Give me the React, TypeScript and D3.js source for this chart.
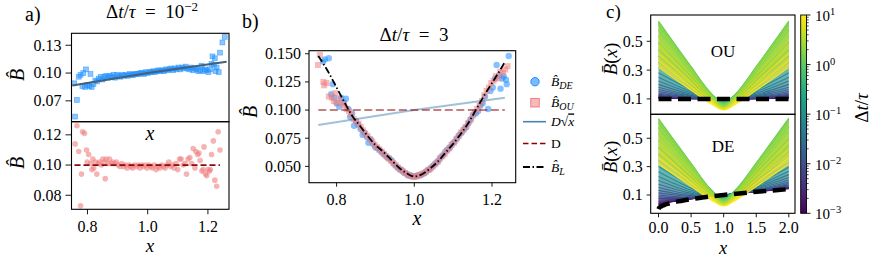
import React from 'react';
import * as d3 from 'd3';

// ---------------- DATA ----------------
// Panel a (top): DE estimate, squares, dt/tau = 1e-2
const aTopDE: [number, number][] = [
  [0.756,0.089],[0.759,0.053],[0.765,0.071],[0.771,0.096],[0.777,0.098],[0.783,0.086],[0.786,0.100],[0.792,0.085],
  [0.795,0.104],[0.800,0.087],[0.806,0.086],[0.810,0.099],[0.814,0.085],[0.820,0.088],[0.826,0.092],[0.832,0.091],
  [0.838,0.094],[0.844,0.096],[0.850,0.093],[0.856,0.096],[0.862,0.097],[0.868,0.095],[0.874,0.097],[0.880,0.096],
  [0.886,0.098],[0.892,0.095],[0.898,0.098],[0.904,0.097],[0.910,0.096],[0.916,0.098],[0.922,0.097],[0.928,0.098],
  [0.934,0.097],[0.940,0.099],[0.946,0.098],[0.952,0.098],[0.958,0.099],[0.964,0.099],[0.970,0.099],[0.976,0.100],
  [0.982,0.100],[0.988,0.099],[0.994,0.101],[1.000,0.100],[1.006,0.101],[1.012,0.101],[1.018,0.102],[1.024,0.101],
  [1.030,0.102],[1.036,0.103],[1.042,0.102],[1.048,0.103],[1.054,0.102],[1.060,0.104],[1.066,0.103],[1.072,0.104],
  [1.078,0.105],[1.084,0.103],[1.090,0.105],[1.096,0.104],[1.102,0.106],[1.108,0.104],[1.114,0.106],[1.120,0.105],
  [1.126,0.107],[1.132,0.105],[1.138,0.104],[1.144,0.106],[1.150,0.103],[1.156,0.105],[1.162,0.104],[1.168,0.102],
  [1.174,0.103],[1.179,0.108],[1.185,0.102],[1.190,0.104],[1.196,0.103],[1.202,0.101],[1.207,0.104],[1.212,0.110],
  [1.215,0.118],[1.220,0.109],[1.223,0.116],[1.225,0.102],[1.229,0.106],[1.236,0.101],[1.240,0.122],[1.248,0.133],
  [1.256,0.139]
];
// Panel a (bottom): OU estimate, circles
const aBotOU: [number, number][] = [
  [0.759,0.114],[0.765,0.126],[0.771,0.109],[0.777,0.073],[0.780,0.094],[0.784,0.122],[0.790,0.121],[0.797,0.110],
  [0.799,0.102],[0.804,0.107],[0.810,0.101],[0.815,0.097],[0.818,0.104],[0.821,0.098],[0.826,0.102],[0.831,0.094],
  [0.836,0.101],[0.840,0.102],[0.846,0.100],[0.851,0.104],[0.856,0.102],[0.859,0.091],[0.862,0.104],[0.868,0.101],
  [0.873,0.104],[0.878,0.101],[0.884,0.102],[0.890,0.101],[0.896,0.102],[0.902,0.100],[0.908,0.099],[0.914,0.101],
  [0.920,0.099],[0.926,0.100],[0.932,0.098],[0.938,0.100],[0.944,0.099],[0.950,0.098],[0.956,0.100],[0.962,0.099],
  [0.968,0.100],[0.974,0.098],[0.980,0.100],[0.986,0.099],[0.992,0.100],[0.998,0.098],[1.004,0.100],[1.010,0.099],
  [1.016,0.098],[1.022,0.100],[1.028,0.097],[1.034,0.099],[1.040,0.098],[1.046,0.100],[1.052,0.099],[1.058,0.098],
  [1.064,0.100],[1.070,0.102],[1.076,0.099],[1.082,0.100],[1.088,0.098],[1.094,0.101],[1.100,0.097],[1.106,0.104],
  [1.111,0.104],[1.118,0.100],[1.124,0.101],[1.129,0.094],[1.134,0.104],[1.140,0.105],[1.146,0.101],[1.151,0.111],
  [1.157,0.098],[1.160,0.109],[1.166,0.107],[1.170,0.108],[1.174,0.103],[1.180,0.096],[1.184,0.097],[1.187,0.112],
  [1.192,0.094],[1.196,0.093],[1.200,0.097],[1.205,0.096],[1.208,0.097],[1.212,0.107],[1.218,0.116],[1.223,0.090],
  [1.229,0.086],[1.234,0.122],[1.240,0.110]
];
const aSqrtLine: [number, number][] = [[0.750,0.0866],[1.000,0.1000],[1.262,0.1123]];
const aConstLine: [number, number][] = [[0.757,0.1],[1.240,0.1]];

// Panel b: dt/tau = 3
const bDE: [number, number][] = [
  [0.765,0.143],[0.770,0.145],[0.780,0.146],[0.786,0.114],[0.790,0.123],[0.794,0.111],[0.800,0.106],[0.807,0.103],
  [0.812,0.111],[0.818,0.107],[0.824,0.110],[0.830,0.101],[0.835,0.094],[0.840,0.097],[0.845,0.086],[0.850,0.090],
  [0.856,0.087],[0.862,0.083],[0.867,0.078],[0.872,0.080],[0.878,0.076],[0.882,0.071],[0.888,0.074],[0.894,0.070],
  [0.900,0.067],[0.906,0.066],[0.912,0.064],[0.918,0.062],[0.924,0.060],[0.930,0.058],[0.936,0.057],[0.942,0.055],
  [0.948,0.052],[0.954,0.050],[0.960,0.048],[0.966,0.047],[0.972,0.045],[0.978,0.044],[0.984,0.042],[0.990,0.042],
  [0.996,0.041],[1.002,0.041],[1.008,0.042],[1.014,0.042],[1.020,0.043],[1.026,0.044],[1.032,0.046],[1.038,0.047],
  [1.044,0.049],[1.050,0.051],[1.056,0.053],[1.062,0.055],[1.068,0.058],[1.074,0.060],[1.080,0.063],[1.086,0.065],
  [1.092,0.067],[1.098,0.070],[1.104,0.072],[1.110,0.075],[1.116,0.078],[1.122,0.080],[1.128,0.083],[1.134,0.085],
  [1.140,0.089],[1.146,0.092],[1.152,0.096],[1.158,0.097],[1.164,0.099],[1.170,0.104],[1.176,0.106],[1.182,0.112],
  [1.190,0.101],[1.196,0.117],[1.202,0.120],[1.208,0.128],[1.212,0.140],[1.218,0.131],[1.222,0.119],[1.226,0.128],
  [1.230,0.130],[1.236,0.127],[1.238,0.123],[1.243,0.148]
];
const bOU: [number, number][] = [
  [0.752,0.140],[0.757,0.149],[0.766,0.125],[0.768,0.122],[0.774,0.124],[0.780,0.112],[0.788,0.111],[0.793,0.108],
  [0.797,0.115],[0.802,0.106],[0.808,0.110],[0.814,0.106],[0.820,0.104],[0.826,0.101],[0.832,0.099],[0.838,0.096],
  [0.844,0.092],[0.850,0.090],[0.856,0.088],[0.862,0.085],[0.868,0.082],[0.874,0.079],[0.880,0.077],[0.886,0.074],
  [0.892,0.072],[0.898,0.069],[0.904,0.067],[0.910,0.065],[0.916,0.063],[0.922,0.061],[0.928,0.059],[0.934,0.057],
  [0.940,0.055],[0.946,0.053],[0.952,0.051],[0.958,0.049],[0.964,0.047],[0.970,0.046],[0.976,0.044],[0.982,0.043],
  [0.988,0.042],[0.994,0.041],[1.000,0.041],[1.006,0.041],[1.012,0.042],[1.018,0.043],[1.024,0.044],[1.030,0.045],
  [1.036,0.047],[1.042,0.048],[1.048,0.050],[1.054,0.052],[1.060,0.054],[1.066,0.057],[1.072,0.059],[1.078,0.061],
  [1.084,0.064],[1.090,0.066],[1.096,0.069],[1.102,0.071],[1.108,0.074],[1.114,0.077],[1.120,0.080],[1.126,0.082],
  [1.132,0.085],[1.138,0.088],[1.144,0.091],[1.150,0.095],[1.156,0.098],[1.162,0.101],[1.168,0.104],[1.174,0.108],
  [1.180,0.113],[1.186,0.117],[1.192,0.120],[1.198,0.124],[1.204,0.126],[1.210,0.130],[1.216,0.128],[1.221,0.134],
  [1.228,0.133],[1.234,0.136],[1.240,0.139]
];
const bLangevin: [number, number][] = [
  [0.753,0.148],[0.78,0.133],[0.80,0.120],[0.82,0.107],[0.84,0.095],[0.86,0.086],[0.88,0.077],[0.90,0.069],
  [0.92,0.063],[0.94,0.056],[0.96,0.049],[0.98,0.044],[1.00,0.041],[1.02,0.043],[1.04,0.048],[1.06,0.054],
  [1.08,0.062],[1.10,0.070],[1.12,0.079],[1.14,0.089],[1.16,0.101],[1.18,0.113],[1.20,0.124],[1.22,0.135],[1.232,0.142]
];
const bSqrtLine: [number, number][] = [[0.753,0.0868],[1.000,0.1000],[1.233,0.1110]];
const bConstLine: [number, number][] = [[0.753,0.1],[1.233,0.1]];

// Panel c: family of curves, one per dt/tau
const dtRatio = [0.001,0.001334,0.001778,0.002371,0.003162,0.004217,0.005623,0.007499,0.01,0.01334,0.01778,0.02371,
  0.03162,0.04217,0.05623,0.07499,0.1,0.1334,0.1778,0.2371,0.3162,0.4217,0.5623,0.7499,1,1.334,1.778,2.371,3.162,
  4.217,5.623,7.499,10];
const ouX = [0, 0.5, 0.8, 1, 1.2, 1.5, 2];
const ouCurves = [
  [0.1048,0.1012,0.1002,0.0999,0.1002,0.1012,0.1048],
  [0.1064,0.1016,0.1002,0.0999,0.1002,0.1016,0.1064],
  [0.1084,0.1021,0.1003,0.0999,0.1003,0.1021,0.1084],
  [0.1111,0.1028,0.1004,0.0999,0.1004,0.1028,0.1111],
  [0.1145,0.1037,0.1005,0.0998,0.1005,0.1037,0.1145],
  [0.1190,0.1049,0.1006,0.0998,0.1006,0.1049,0.1190],
  [0.1246,0.1065,0.1008,0.0997,0.1008,0.1065,0.1246],
  [0.1318,0.1086,0.1011,0.0996,0.1011,0.1086,0.1318],
  [0.1407,0.1113,0.1015,0.0995,0.1015,0.1113,0.1407],
  [0.1518,0.1147,0.1020,0.0993,0.1020,0.1147,0.1518],
  [0.1652,0.1191,0.1026,0.0991,0.1026,0.1191,0.1652],
  [0.1815,0.1247,0.1034,0.0988,0.1034,0.1247,0.1815],
  [0.2008,0.1317,0.1045,0.0984,0.1045,0.1317,0.2008],
  [0.2237,0.1404,0.1059,0.0979,0.1059,0.1404,0.2237],
  [0.2503,0.1508,0.1076,0.0973,0.1076,0.1508,0.2503],
  [0.2809,0.1634,0.1099,0.0964,0.1099,0.1634,0.2809],
  [0.3156,0.1781,0.1126,0.0952,0.1126,0.1781,0.3156],
  [0.3545,0.1949,0.1160,0.0937,0.1160,0.1949,0.3545],
  [0.3971,0.2138,0.1199,0.0917,0.1199,0.2138,0.3971],
  [0.4426,0.2344,0.1244,0.0892,0.1244,0.2344,0.4426],
  [0.4897,0.2560,0.1293,0.0861,0.1293,0.2560,0.4897],
  [0.5362,0.2774,0.1341,0.0822,0.1341,0.2774,0.5362],
  [0.5788,0.2971,0.1384,0.0775,0.1384,0.2971,0.5788],
  [0.6135,0.3130,0.1415,0.0720,0.1415,0.3130,0.6135],
  [0.6355,0.3228,0.1425,0.0658,0.1425,0.3228,0.6355],
  [0.6405,0.3243,0.1406,0.0591,0.1406,0.3243,0.6405],
  [0.6254,0.3160,0.1352,0.0523,0.1352,0.3160,0.6254],
  [0.5905,0.2979,0.1263,0.0457,0.1263,0.2979,0.5905],
  [0.5400,0.2722,0.1148,0.0397,0.1148,0.2722,0.5400],
  [0.4810,0.2424,0.1020,0.0344,0.1020,0.2424,0.4810],
  [0.4212,0.2122,0.0892,0.0298,0.0892,0.2122,0.4212],
  [0.3659,0.1843,0.0774,0.0258,0.0774,0.1843,0.3659],
  [0.3170,0.1597,0.0671,0.0224,0.0671,0.1597,0.3170]
];
const deX = [0, 0.25, 0.5, 0.8, 1, 1.2, 1.5, 2];
const deCurves = [
  [0.0317,0.0554,0.0724,0.0896,0.0999,0.1097,0.1234,0.1448],
  [0.0366,0.0570,0.0730,0.0897,0.0999,0.1097,0.1237,0.1459],
  [0.0422,0.0592,0.0738,0.0898,0.0999,0.1098,0.1242,0.1474],
  [0.0488,0.0619,0.0747,0.0899,0.0999,0.1098,0.1247,0.1494],
  [0.0563,0.0654,0.0760,0.0900,0.0998,0.1099,0.1254,0.1519],
  [0.0650,0.0698,0.0777,0.0902,0.0998,0.1101,0.1264,0.1552],
  [0.0750,0.0752,0.0799,0.0905,0.0997,0.1102,0.1277,0.1595],
  [0.0865,0.0818,0.0827,0.0908,0.0996,0.1105,0.1293,0.1651],
  [0.0998,0.0899,0.0863,0.0913,0.0995,0.1108,0.1315,0.1722],
  [0.1150,0.0996,0.0909,0.0918,0.0993,0.1112,0.1344,0.1812],
  [0.1325,0.1111,0.0966,0.0926,0.0991,0.1117,0.1381,0.1924],
  [0.1526,0.1247,0.1036,0.0936,0.0988,0.1124,0.1428,0.2063],
  [0.1755,0.1406,0.1122,0.0949,0.0984,0.1132,0.1487,0.2233],
  [0.2016,0.1590,0.1225,0.0966,0.0979,0.1144,0.1562,0.2438],
  [0.2312,0.1802,0.1347,0.0987,0.0973,0.1159,0.1654,0.2680],
  [0.2645,0.2043,0.1491,0.1014,0.0964,0.1177,0.1765,0.2964],
  [0.3017,0.2314,0.1655,0.1047,0.0952,0.1200,0.1898,0.3290],
  [0.3427,0.2615,0.1841,0.1087,0.0937,0.1229,0.2052,0.3659],
  [0.3873,0.2943,0.2047,0.1134,0.0917,0.1262,0.2226,0.4066],
  [0.4346,0.3293,0.2268,0.1186,0.0892,0.1300,0.2418,0.4505],
  [0.4833,0.3653,0.2498,0.1243,0.0861,0.1340,0.2620,0.4961],
  [0.5312,0.4008,0.2725,0.1301,0.0822,0.1380,0.2822,0.5411],
  [0.5750,0.4334,0.2934,0.1353,0.0775,0.1416,0.3007,0.5826],
  [0.6108,0.4599,0.3103,0.1392,0.0720,0.1439,0.3157,0.6162],
  [0.6337,0.4768,0.3210,0.1409,0.0658,0.1441,0.3246,0.6374],
  [0.6393,0.4808,0.3232,0.1395,0.0591,0.1416,0.3254,0.6416],
  [0.6248,0.4697,0.3153,0.1346,0.0523,0.1357,0.3166,0.6260],
  [0.5902,0.4436,0.2976,0.1260,0.0457,0.1266,0.2982,0.5908],
  [0.5399,0.4057,0.2721,0.1147,0.0397,0.1149,0.2723,0.5401],
  [0.4810,0.3615,0.2423,0.1019,0.0344,0.1020,0.2424,0.4811],
  [0.4212,0.3165,0.2122,0.0892,0.0298,0.0892,0.2122,0.4212],
  [0.3659,0.2750,0.1843,0.0774,0.0258,0.0774,0.1843,0.3659],
  [0.3170,0.2382,0.1597,0.0671,0.0224,0.0671,0.1597,0.3170]
];
const ouTrue: [number, number][] = [[0,0.1],[2,0.1]];
const deTrue: [number, number][] = [[0,0],[0.01,0.01],[0.03,0.0173],[0.06,0.0245],[0.1,0.0316],[0.15,0.0387],[0.2,0.0447],
  [0.3,0.0548],[0.4,0.0632],[0.5,0.0707],[0.6,0.0775],[0.8,0.0894],[1.0,0.1],[1.2,0.1095],[1.4,0.1183],[1.6,0.1265],
  [1.8,0.1342],[2.0,0.1414]];

// ticks
const aTopYTicks = [0.07, 0.10, 0.13];
const aBotYTicks = [0.08, 0.10, 0.12];
const abXTicks = [0.8, 1.0, 1.2];
const bYTicks = [0.050, 0.075, 0.100, 0.125, 0.150];
const cYTicks = [0.1, 0.3, 0.5];
const cXTicks = [0, 0.5, 1.0, 1.5, 2.0];
const cbTicks = [0.001, 0.01, 0.1, 1, 10];

// ---------------- DRAWING ----------------
const F = "'Liberation Serif', serif";
const BLUE = '#1e90ff';
const SALMON = '#f08080';

function YTicks({ scale, ticks, x, len, fmt, gap = 3.5, fs = 16 }: any) {
  return (
    <g>
      {ticks.map((t: number) => (
        <g key={t}>
          <line x1={x - len} x2={x} y1={scale(t)} y2={scale(t)} stroke="#000" strokeWidth={0.9} />
          <text x={x - len - gap} y={scale(t)} dy="0.34em" textAnchor="end" fontSize={fs}>{fmt(t)}</text>
        </g>
      ))}
    </g>
  );
}
function XTicks({ scale, ticks, y, len, fmt, base, fs = 16 }: any) {
  return (
    <g>
      {ticks.map((t: number) => (
        <g key={t}>
          <line x1={scale(t)} x2={scale(t)} y1={y} y2={y + len} stroke="#000" strokeWidth={0.9} />
          <text x={scale(t)} y={base} textAnchor="middle" fontSize={fs}>{fmt(t)}</text>
        </g>
      ))}
    </g>
  );
}
function Frame({ x0, x1, y0, y1 }: any) {
  return <rect x={x0} y={y0} width={x1 - x0} height={y1 - y0} fill="none" stroke="#000" strokeWidth={1.1} />;
}
function BHat({ x, y, fs = 20 }: any) {
  return (
    <text transform={`translate(${x},${y}) rotate(-90)`} textAnchor="middle" dy="0.35em" fontSize={fs} fontStyle="italic">
      {'B\u0302'}
    </text>
  );
}
function BBar({ x, y }: any) {
  return (
    <text transform={`translate(${x},${y}) rotate(-90)`} textAnchor="middle" dy="0.35em" fontSize={19}>
      <tspan fontStyle="italic">{'B\u0304'}</tspan><tspan>(</tspan><tspan fontStyle="italic">x</tspan><tspan>)</tspan>
    </text>
  );
}
function Square({ cx, cy, s, ...rest }: any) {
  return <rect x={cx - s / 2} y={cy - s / 2} width={s} height={s} {...rest} />;
}
function DtTau({ tail }: any) {
  return (
    <>
      <tspan>Δ</tspan><tspan fontStyle="italic">t</tspan><tspan>/</tspan><tspan fontStyle="italic">τ</tspan>
      {tail}
    </>
  );
}

function CurveFamily({ xs, rows, ys, xC, color }: any) {
  const pts = (row: number[]) => row.map((v, j) => [xs[j], v] as [number, number]);
  const line = d3.line<[number, number]>().x(d => xC(d[0])).y(d => ys(d[1])).curve(d3.curveMonotoneX);
  const area = d3.area<number>()
    .x((_, j) => xC(xs[j]))
    .curve(d3.curveMonotoneX);
  return (
    <g>
      {rows.map((row: number[], k: number) => {
        const c = color(dtRatio[k]);
        let band = null;
        if (k > 0) {
          const prev = rows[k - 1];
          const a = area.y0((_, j) => ys(prev[j])).y1((_, j) => ys(row[j]));
          band = <path d={a(row) || ''} fill={c} fillOpacity={0.68} stroke="none" />;
        }
        return (
          <g key={k}>
            {band}
            <path d={line(pts(row)) || ''} fill="none" stroke={c} strokeWidth={1.1} strokeOpacity={0.95} />
          </g>
        );
      })}
    </g>
  );
}

export default function App() {
  // panel a scales
  const xA = d3.scaleLinear().domain([0.747, 1.27]).range([71.5, 229]);
  const yAt = d3.scaleLinear().domain([0.0475, 0.1429]).range([121.7, 33.3]);
  const yAb = d3.scaleLinear().domain([0.0707, 0.1287]).range([209.3, 121.7]);
  // panel b
  const xB = d3.scaleLinear().domain([0.729, 1.261]).range([309, 515.7]);
  const yB = d3.scaleLinear().domain([0.0355, 0.1527]).range([182.7, 50.7]);
  // panel c
  const xC = d3.scaleLinear().domain([-0.12, 2.095]).range([650.7, 795]);
  const yCt = d3.scaleLinear().domain([-0.007, 0.6826]).range([114.3, 15]);
  const yCb = d3.scaleLinear().domain([-0.029, 0.669]).range([213.3, 114.3]);
  const cb = d3.scaleLog().domain([1e-3, 10]).range([213.3, 15]);
  const color = d3.scaleSequentialLog(d3.interpolateViridis).domain([1e-3, 10]);

  const lineA = (ys: any) => d3.line<[number, number]>().x(d => xA(d[0])).y(d => ys(d[1]));
  const lineB = d3.line<[number, number]>().x(d => xB(d[0])).y(d => yB(d[1]));
  const lineBL = d3.line<[number, number]>().x(d => xB(d[0])).y(d => yB(d[1])).curve(d3.curveMonotoneX);
  const lineC = (ys: any) => d3.line<[number, number]>().x(d => xC(d[0])).y(d => ys(d[1])).curve(d3.curveMonotoneX);

  const f2 = d3.format('.2f');
  const f3 = d3.format('.3f');
  const f1 = d3.format('.1f');

  const gradStops = d3.range(0, 1.0001, 0.05);

  return (
    <svg width={871} height={258} style={{ position: 'absolute', left: 0, top: 0, background: '#fff' }} fontFamily={F}>
      <defs>
        <linearGradient id="vir" x1="0" y1="1" x2="0" y2="0">
          {gradStops.map(t => <stop key={t} offset={t} stopColor={d3.interpolateViridis(t)} />)}
        </linearGradient>
        <clipPath id="clipAt"><rect x={71.5} y={33.3} width={157.5} height={88.4} /></clipPath>
        <clipPath id="clipAb"><rect x={71.5} y={121.7} width={157.5} height={87.6} /></clipPath>
        <clipPath id="clipB"><rect x={309} y={50.7} width={206.7} height={132} /></clipPath>
        <clipPath id="clipCt"><rect x={650.7} y={15} width={144.3} height={99.3} /></clipPath>
        <clipPath id="clipCb"><rect x={650.7} y={114.3} width={144.3} height={99} /></clipPath>
      </defs>

      {/* ---------- panel a ---------- */}
      <text x={25} y={21} fontSize={20}>a)</text>
      <text x={152} y={18} textAnchor="middle" fontSize={19}>
        <DtTau tail={<><tspan>{'\u2002=\u200210'}</tspan><tspan dy={-7} fontSize={13}>−2</tspan></>} />
      </text>
      <g clipPath="url(#clipAt)">
        {aTopDE.map((d, i) => (
          <Square key={i} cx={xA(d[0])} cy={yAt(d[1])} s={4.8} fill={BLUE} fillOpacity={0.5} stroke={BLUE} strokeOpacity={0.6} strokeWidth={0.8} />
        ))}
        <path d={lineA(yAt)(aSqrtLine) || ''} fill="none" stroke="#44607a" strokeWidth={2} />
      </g>
      <g clipPath="url(#clipAb)">
        {aBotOU.map((d, i) => (
          <circle key={i} cx={xA(d[0])} cy={yAb(d[1])} r={2.8} fill={SALMON} fillOpacity={0.6} />
        ))}
        <path d={lineA(yAb)(aConstLine) || ''} fill="none" stroke="#8b0a0a" strokeWidth={1.8} strokeDasharray="6,3" />
      </g>
      <Frame x0={71.5} x1={229} y0={33.3} y1={121.7} />
      <Frame x0={71.5} x1={229} y0={121.7} y1={209.3} />
      <YTicks scale={yAt} ticks={aTopYTicks} x={71.5} len={6} gap={4} fmt={f2} />
      <YTicks scale={yAb} ticks={aBotYTicks} x={71.5} len={6} gap={4} fmt={f2} />
      <XTicks scale={xA} ticks={abXTicks} y={209.3} len={5} base={231.5} fmt={f1} />
      <BHat x={17} y={75} />
      <BHat x={17} y={163} />
      <text x={150} y={140} textAnchor="middle" fontSize={20} fontStyle="italic">x</text>
      <text x={150} y={252} textAnchor="middle" fontSize={19} fontStyle="italic">x</text>

      {/* ---------- panel b ---------- */}
      <text x={242} y={28} fontSize={20}>b)</text>
      <text x={414} y={41} textAnchor="middle" fontSize={19}>
        <DtTau tail={<tspan>{'\u2002=\u20023'}</tspan>} />
      </text>
      <g clipPath="url(#clipB)">
        {bDE.map((d, i) => (
          <circle key={i} cx={xB(d[0])} cy={yB(d[1])} r={3.2} fill={BLUE} fillOpacity={0.55} />
        ))}
        {bOU.map((d, i) => (
          <Square key={i} cx={xB(d[0])} cy={yB(d[1])} s={6} fill={SALMON} fillOpacity={0.55} />
        ))}
        <path d={lineB(bSqrtLine) || ''} fill="none" stroke="steelblue" strokeOpacity={0.5} strokeWidth={2} />
        <path d={lineB(bConstLine) || ''} fill="none" stroke="#8b0000" strokeOpacity={0.5} strokeWidth={2} strokeDasharray="8,3.5" />
        <path d={lineBL(bLangevin) || ''} fill="none" stroke="#000" strokeWidth={1.8} strokeDasharray="7,2.5,1.5,2.5" />
      </g>
      <Frame x0={309} x1={515.7} y0={50.7} y1={182.7} />
      <YTicks scale={yB} ticks={bYTicks} x={309} len={4} gap={4} fmt={f3} />
      <XTicks scale={xB} ticks={abXTicks} y={182.7} len={4} base={204.5} fmt={f1} />
      <BHat x={250} y={112} />
      <text x={417} y={225} textAnchor="middle" fontSize={20} fontStyle="italic">x</text>

      {/* legend */}
      <g fontSize={13.5}>
        <circle cx={535} cy={81.7} r={4.2} fill={BLUE} fillOpacity={0.6} stroke={BLUE} strokeWidth={1} />
        <text x={551} y={81.7} dy="0.35em"><tspan fontStyle="italic">{'B\u0302'}</tspan><tspan fontStyle="italic" fontSize={10} dy={3}>DE</tspan></text>
        <Square cx={535} cy={102.7} s={8.5} fill={SALMON} fillOpacity={0.55} stroke={SALMON} strokeWidth={1} />
        <text x={551} y={102.7} dy="0.35em"><tspan fontStyle="italic">{'B\u0302'}</tspan><tspan fontStyle="italic" fontSize={10} dy={3}>OU</tspan></text>
        <line x1={523} x2={546} y1={121.7} y2={121.7} stroke="steelblue" strokeWidth={1.6} />
        <text x={551} y={121.7} dy="0.35em"><tspan fontStyle="italic">D</tspan><tspan>√</tspan><tspan fontStyle="italic" style={{ textDecoration: 'overline' }}>x</tspan></text>
        <line x1={523} x2={546} y1={143.5} y2={143.5} stroke="#8b0000" strokeWidth={1.6} strokeDasharray="5.5,3" />
        <text x={551} y={143.5} dy="0.35em">D</text>
        <line x1={523} x2={546} y1={167} y2={167} stroke="#000" strokeWidth={1.8} strokeDasharray="7,2.5,1.5,2.5" />
        <text x={551} y={167} dy="0.35em"><tspan fontStyle="italic">{'B\u0302'}</tspan><tspan fontStyle="italic" fontSize={10} dy={3}>L</tspan></text>
      </g>

      {/* ---------- panel c ---------- */}
      <text x={606} y={18} fontSize={19}>c)</text>
      <g clipPath="url(#clipCt)">
        <CurveFamily xs={ouX} rows={ouCurves} ys={yCt} xC={xC} color={color} />
        <path d={lineC(yCt)(ouTrue) || ''} fill="none" stroke="#000" strokeWidth={4.5} strokeDasharray="13,6.5" />
      </g>
      <g clipPath="url(#clipCb)">
        <CurveFamily xs={deX} rows={deCurves} ys={yCb} xC={xC} color={color} />
        <path d={lineC(yCb)(deTrue) || ''} fill="none" stroke="#000" strokeWidth={4.5} strokeDasharray="13,6.5" />
      </g>
      <text x={723} y={56.5} textAnchor="middle" fontSize={17}>OU</text>
      <text x={723} y={151.5} textAnchor="middle" fontSize={17}>DE</text>
      <Frame x0={650.7} x1={795} y0={15} y1={114.3} />
      <Frame x0={650.7} x1={795} y0={114.3} y1={213.3} />
      <YTicks scale={yCt} ticks={cYTicks} x={650.7} len={4} gap={4} fmt={f1} />
      <YTicks scale={yCb} ticks={cYTicks} x={650.7} len={4} gap={4} fmt={f1} />
      <XTicks scale={xC} ticks={cXTicks} y={213.3} len={4} base={233.3} fmt={f1} />
      <BBar x={610} y={59} />
      <BBar x={610} y={157} />
      <text x={723} y={254} textAnchor="middle" fontSize={18.5} fontStyle="italic">x</text>

      {/* colorbar */}
      <rect x={800.7} y={15} width={5.8} height={198.3} fill="url(#vir)" stroke="#000" strokeWidth={0.9} />
      {cbTicks.map(t => (
        <g key={t}>
          <line x1={806.5} x2={810.5} y1={cb(t)} y2={cb(t)} stroke="#000" strokeWidth={0.9} />
          <text x={815} y={cb(t)} dy="0.4em" fontSize={15}>
            10<tspan dy={-6} fontSize={10.5}>{String(Math.round(Math.log10(t))).replace('-', '−')}</tspan>
          </text>
        </g>
      ))}
      {cbTicks.slice(0, 4).flatMap(t => [2, 3, 4, 5, 6, 7, 8, 9].map(m => (
        <line key={`${t}-${m}`} x1={806.5} x2={808.7} y1={cb(t * m)} y2={cb(t * m)} stroke="#000" strokeWidth={0.7} />
      )))}
      <text transform="translate(861,108) rotate(-90)" textAnchor="middle" dy="0.35em" fontSize={19}>
        <DtTau tail={null} />
      </text>
    </svg>
  );
}
